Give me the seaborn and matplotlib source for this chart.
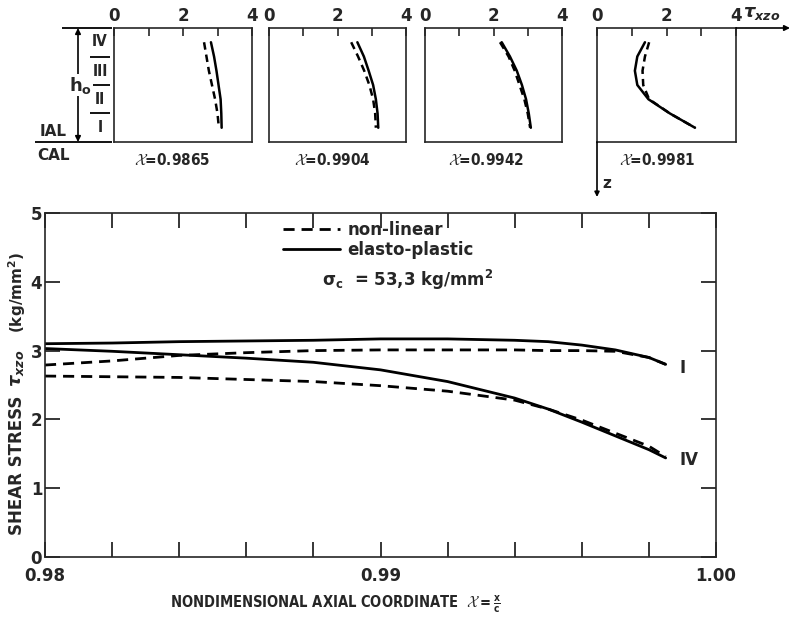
import numpy as np
import matplotlib
matplotlib.use("Agg")
import matplotlib.pyplot as plt
import seaborn as sns
from matplotlib.lines import Line2D

# ---- main plot: shear stress along the axial coordinate ----
x_coord = [0.980, 0.982, 0.984, 0.986, 0.988, 0.990, 0.992, 0.994,
           0.995, 0.996, 0.997, 0.998, 0.9985]
tau_I_nonlinear = [2.79, 2.85, 2.93, 2.97, 3.00, 3.01, 3.01, 3.01,
                   3.00, 3.00, 2.99, 2.90, 2.80]
tau_I_elastoplastic = [3.10, 3.11, 3.13, 3.14, 3.15, 3.17, 3.17, 3.15,
                       3.13, 3.08, 3.01, 2.90, 2.80]
tau_IV_nonlinear = [2.63, 2.62, 2.61, 2.58, 2.55, 2.49, 2.41, 2.28,
                    2.15, 1.99, 1.80, 1.61, 1.46]
tau_IV_elastoplastic = [3.03, 2.99, 2.94, 2.89, 2.83, 2.72, 2.55, 2.31,
                        2.15, 1.96, 1.76, 1.56, 1.44]

# ---- through-thickness profiles at four stations ----
profile_z = [0.5, 1.0, 1.5, 2.0, 2.5, 3.0, 3.5]   # layer IV (top) .. layer I (bottom)
station_labels = ["0.9865", "0.9904", "0.9942", "0.9981"]
prof_9865_nl = [2.61, 2.68, 2.75, 2.84, 2.93, 3.00, 3.04]
prof_9865_ep = [2.81, 2.90, 2.97, 3.03, 3.09, 3.11, 3.12]
prof_9904_nl = [2.40, 2.60, 2.78, 2.93, 3.04, 3.10, 3.12]
prof_9904_ep = [2.58, 2.77, 2.91, 3.04, 3.12, 3.17, 3.19]
prof_9942_nl = [2.19, 2.44, 2.62, 2.76, 2.90, 3.00, 3.07]
prof_9942_ep = [2.24, 2.48, 2.68, 2.83, 2.95, 3.03, 3.09]
prof_9981_nl = [1.50, 1.38, 1.31, 1.33, 1.50, 2.10, 2.82]
prof_9981_ep = [1.38, 1.16, 1.09, 1.16, 1.48, 2.10, 2.82]

layer_names = ["IV", "III", "II", "I"]

sns.set_style("ticks")
plt.rcParams["font.family"] = ["DejaVu Sans"]
plt.rcParams["font.weight"] = "bold"
plt.rcParams["mathtext.fontset"] = "cm"
plt.rcParams["mathtext.default"] = "regular"
plt.rcParams["axes.linewidth"] = 1.2

W, H = 794, 618
fig = plt.figure(figsize=(W / 100, H / 100), dpi=100)


def box(l, t, r, b):
    return [l / W, 1 - b / H, (r - l) / W, (b - t) / H]


DASH = (0, (4, 2.5))
LW = 2.0
TAU = r"$\tau_{xzo}$"

# ---------------- main axes ----------------
ax = fig.add_axes(box(45, 213, 716, 557))
for vals, ls in [(tau_I_nonlinear, DASH), (tau_I_elastoplastic, "-"),
                 (tau_IV_nonlinear, DASH), (tau_IV_elastoplastic, "-")]:
    sns.lineplot(x=x_coord, y=vals, ax=ax, color="black", lw=LW,
                 linestyle=ls, estimator=None, sort=False)

ax.set_xlim(0.98, 1.00)
ax.set_ylim(0, 5)
xt = np.round(np.arange(0.980, 1.0001, 0.002), 3)
ax.set_xticks(xt)
ax.set_xticklabels(["0.98" if abs(v - 0.98) < 1e-9 else
                    "0.99" if abs(v - 0.99) < 1e-9 else
                    "1.00" if abs(v - 1.0) < 1e-9 else "" for v in xt])
ax.set_yticks([0, 1, 2, 3, 4, 5])
ax.set_yticklabels(["0", "1", "2", "3", "4", "5"])
ax.tick_params(axis="both", direction="in", length=11, width=1.3,
               labelsize=12, top=True, right=True)
ax.tick_params(axis="x", pad=7)
ax.tick_params(axis="y", pad=2)
for sp in ax.spines.values():
    sp.set_visible(True)
    sp.set_linewidth(1.2)

# curve labels at the ends of the curves
ax.text(x_coord[-1] + 0.0004, tau_I_elastoplastic[-1] - 0.05, "I",
        fontsize=12, ha="left", va="center")
ax.text(x_coord[-1] + 0.0004, tau_IV_elastoplastic[-1] - 0.03, "IV",
        fontsize=12, ha="left", va="center")

handles = [Line2D([], [], color="black", lw=LW, linestyle=DASH),
           Line2D([], [], color="black", lw=LW)]
ax.legend(handles, ["non-linear", "elasto-plastic"], loc="upper left",
          bbox_to_anchor=((283 - 45) / 671, (557 - 221) / 344),
          frameon=False, fontsize=12, handlelength=3.4, handletextpad=0.45,
          labelspacing=0.12, borderpad=0, borderaxespad=0)
ax.text((322 - 45) / 671, (557 - 280) / 344,
        r"$\sigma_c$  = 53,3 kg/mm$^2$", transform=ax.transAxes,
        fontsize=12, ha="left", va="center")

# y-axis title in three pieces (name, symbol, unit)
fig.text(17 / W, 1 - 465 / H, "SHEAR STRESS", rotation=90,
         ha="center", va="center", fontsize=12)
fig.text(17 / W, 1 - 368 / H, TAU, rotation=90, ha="center", va="center",
         fontsize=13, fontstyle="italic")
fig.text(17 / W, 1 - 292 / H, r"(kg/mm$^2$)", rotation=90,
         ha="center", va="center", fontsize=11)
fig.text(335 / W, 1 - 604 / H,
         r"NONDIMENSIONAL AXIAL COORDINATE  $\mathcal{X}=\frac{x}{c}$",
         ha="center", va="center", fontsize=10.5, fontstretch="condensed")

# ---------------- profile panels ----------------
panel_boxes = [(114, 28, 252, 142), (269, 28, 406, 142),
               (425, 28, 562, 142), (597, 28, 736, 142)]
caption_x = [172, 332, 486, 657]
profiles = [(prof_9865_nl, prof_9865_ep), (prof_9904_nl, prof_9904_ep),
            (prof_9942_nl, prof_9942_ep), (prof_9981_nl, prof_9981_ep)]

for (l, t, r, b), (nl, ep), lab, cx in zip(panel_boxes, profiles,
                                           station_labels, caption_x):
    pax = fig.add_axes(box(l, t, r, b))
    sns.lineplot(x=nl, y=profile_z, ax=pax, color="black", lw=1.8,
                 linestyle=(0, (3, 2)), orient="y", sort=False, estimator=None)
    sns.lineplot(x=ep, y=profile_z, ax=pax, color="black", lw=1.8,
                 orient="y", sort=False, estimator=None)
    pax.set_xlim(0, 4)
    pax.set_ylim(4, 0)
    pax.set_xticks([0, 1, 2, 3, 4])
    pax.set_xticklabels(["0", "", "2", "", "4"])
    pax.set_yticks([])
    pax.set_xlabel("")
    pax.set_ylabel("")
    pax.xaxis.tick_top()
    pax.tick_params(axis="x", direction="in", length=6, width=1.2,
                    labelsize=12, pad=2)
    for sp in pax.spines.values():
        sp.set_visible(True)
        sp.set_linewidth(1.2)
    fig.text(cx / W, 1 - 160 / H, r"$\mathcal{X}$=" + lab,
             ha="center", va="center", fontsize=11, fontstretch="condensed")

# ---------------- layer annotation and axis arrows ----------------
deco = fig.add_axes([0, 0, 1, 1], zorder=5)
deco.set_xlim(0, W)
deco.set_ylim(H, 0)
deco.axis("off")
deco.patch.set_alpha(0)

kw = dict(color="black", lw=1.3, solid_capstyle="butt")
deco.plot([62, 112], [28, 28], **kw)
deco.plot([35, 112], [142, 142], **kw)
deco.annotate("", xy=(78, 28), xytext=(78, 142),
              arrowprops=dict(arrowstyle="<|-|>", lw=1.2, color="black",
                              mutation_scale=8, shrinkA=0, shrinkB=0))
deco.text(81, 85, r"h$_o$", fontsize=13, ha="center", va="center",
          bbox=dict(facecolor="white", edgecolor="none", pad=0.5))
for yy in [57, 85, 113]:
    deco.plot([90, 110], [yy, yy], **kw)
for name, yy in zip(layer_names, [42, 71, 99, 127]):
    deco.text(100, yy, name, fontsize=11, ha="center", va="center",
              fontstretch="condensed")
deco.text(53, 131, "IAL", fontsize=11, ha="center", va="center")
deco.text(53, 156, "CAL", fontsize=11, ha="center", va="center")

deco.annotate("", xy=(790, 28), xytext=(736, 28),
              arrowprops=dict(arrowstyle="-|>", lw=1.2, color="black",
                              mutation_scale=8, shrinkA=0, shrinkB=0))
deco.text(762, 13, TAU, fontsize=13, ha="center", va="center",
          fontstyle="italic")
deco.annotate("", xy=(597, 197), xytext=(597, 142),
              arrowprops=dict(arrowstyle="-|>", lw=1.2, color="black",
                              mutation_scale=7, shrinkA=0, shrinkB=0))
deco.text(602, 183, "z", fontsize=11, ha="left", va="center")

fig.savefig("out.png", dpi=100)
